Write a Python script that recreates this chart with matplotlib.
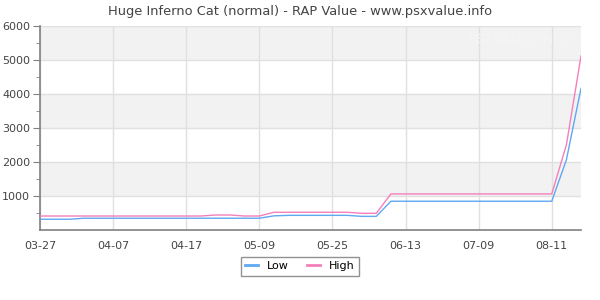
import matplotlib
matplotlib.use('Agg')
import matplotlib.pyplot as plt

# x positions are observation indices; labels every 5th point
tick_labels = ['03-27', '04-07', '04-17', '05-09', '05-25', '06-13', '07-09', '08-11']

low = [325, 325, 325,
       355, 355, 355, 355, 355, 355, 355, 355, 355, 355, 355, 355, 355,
       425,
       440, 440, 440, 440, 440,
       410, 410,
       855, 855, 855, 855, 855, 855, 855, 855, 855, 855, 855, 855,
       2070, 4175]

high = [420, 420, 420, 420, 420, 420, 420, 420, 420, 420, 420, 420,
        450, 450,
        420, 420,
        530,
        530, 530, 530, 530, 530,
        500, 500,
        1070, 1070, 1070, 1070, 1070, 1070, 1070, 1070, 1070, 1070, 1070, 1070,
        2510, 5125]

y_major = [1000, 2000, 3000, 4000, 5000, 6000]

fig = plt.figure(figsize=(6, 3), dpi=100)
ax = fig.add_axes([40 / 600, 1 - 230.3 / 300, 541 / 600, 204 / 300])

x = list(range(len(low)))

# alternating bands
for lo in (1000, 3000, 5000):
    ax.axhspan(lo, lo + 1000, color='#f2f2f2', zorder=0, lw=0)

ax.plot(x, low, color='#5fa8f2', lw=1, label='Low', zorder=3)
ax.plot(x, high, color='#f47fbb', lw=1, label='High', zorder=3)

ax.set_xlim(0, len(low) - 1)
ax.set_ylim(0, 6000)
ax.set_xticks(range(0, len(low) - 1, 5), labels=tick_labels)
ax.set_yticks(y_major)
ax.set_yticks(range(500, 6000, 1000), minor=True)

ax.grid(True, color='#e0e0e0', lw=1, zorder=1)
ax.set_axisbelow(True)

for s in ('top', 'right'):
    ax.spines[s].set_visible(False)
for s in ('left', 'bottom'):
    ax.spines[s].set_color('#808080')
    ax.spines[s].set_linewidth(1.2)

ax.tick_params(axis='x', length=0, pad=8, labelsize=8, labelcolor='#444444')
ax.tick_params(axis='y', which='major', length=5, color='#808080',
               labelsize=8, labelcolor='#444444', pad=2)
ax.tick_params(axis='y', which='minor', length=3, color='#808080')

# faint watermark
ax.text(0.983, 0.933, 'PSXVALUE.INFO', transform=ax.transAxes, ha='right',
        va='center', fontsize=9.5, color='#f5f5f5', zorder=2)

fig.suptitle('Huge Inferno Cat (normal) - RAP Value - www.psxvalue.info',
             y=0.985, fontsize=9.4, color='#444444')

leg = fig.legend(loc='center', bbox_to_anchor=(0.5, 0.113), ncol=2,
                 fontsize=8, frameon=True, fancybox=False, handlelength=1.2,
                 borderpad=0.4, columnspacing=1.6, handletextpad=0.8)
leg.get_frame().set_edgecolor('#777777')
leg.get_frame().set_linewidth(1)
for line in leg.get_lines():
    line.set_linewidth(2)

plt.savefig('out.png', dpi=100)
